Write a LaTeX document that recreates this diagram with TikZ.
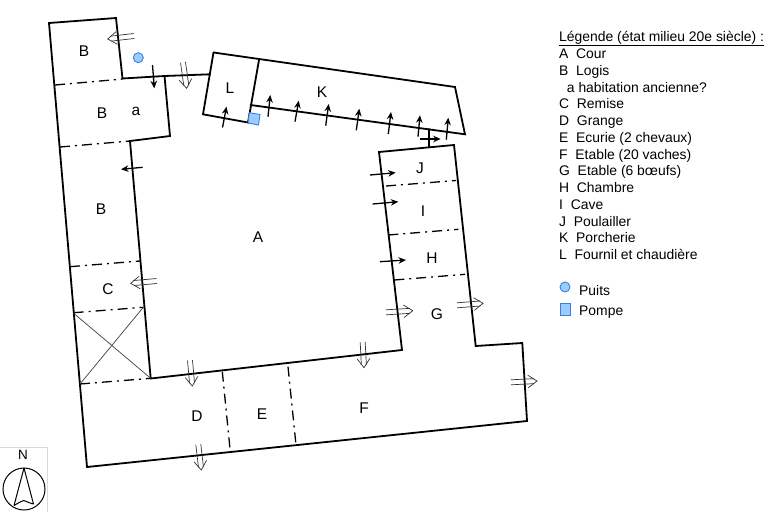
\documentclass[tikz,border=0pt]{standalone}
\usepackage{fontspec}
\setmainfont{Liberation Sans}
\usetikzlibrary{calc,arrows.meta}
\definecolor{bluefill}{HTML}{99CCFF}
\definecolor{blueedge}{HTML}{3D7FDB}
\tikzset{
  wall/.style={line width=1.8pt,line join=miter,line cap=round},
  sep/.style={line width=1.3pt,dash pattern=on 10pt off 5pt on 2pt off 5pt},
  cross/.style={line width=.7pt,black!75},
  solidarrow/.style={line width=1.3pt,-{Stealth[length=7.5pt,width=6.5pt]}},
  openarrow/.style={line width=.7pt,black!80,line join=miter},
  lbl/.style={font=\fontsize{15.5}{15.5}\selectfont,inner sep=0pt,yshift=-1pt},
  leg/.style={font=\fontsize{13.9}{13.9}\selectfont,inner sep=0pt,anchor=base west},
  blue/.style={fill=bluefill,draw=blueedge,line width=.9pt},
}
\newcommand{\opnarrow}[2]{%
  \draw[openarrow] ($(#1)!2.5pt!90:(#2)$) -- ($($(#2)!3pt!(#1)$)!2.5pt!90:(#2)$);
  \draw[openarrow] ($(#1)!2.5pt!-90:(#2)$) -- ($($(#2)!3pt!(#1)$)!2.5pt!-90:(#2)$);
  \draw[openarrow] ($(#2)!11pt!35:(#1)$) -- (#2) -- ($(#2)!11pt!-35:(#1)$);
}
\begin{document}
\begin{tikzpicture}[x=1pt,y=-1pt]
\useasboundingbox (0,0) rectangle (768,512);
\fill[white] (0,0) rectangle (768,512);

% north sign
\draw[black!15,line width=.6pt] (0,447) -- (47,447) -- (47,512);
\node[inner sep=0pt,font=\fontsize{13.5}{13.5}\selectfont] (north) at (23,455) {N};
\draw[line width=1pt] (24,489) circle (21);
\draw[line width=1pt,line join=round] (14,505.5) -- (24,468) -- (33.5,504) .. controls (29,503) and (26,501) .. (23.5,500.5) .. controls (20,501.5) and (17,504) .. (14,505.5);

% walls
\draw[wall] (49,23) -- (116,18) -- (122.5,78.5) -- (164.5,76) -- (170,136) -- (130,141) -- (150.7,378.5) -- (402,350) -- (379,152) -- (454,145) -- (475.7,346) -- (522.3,343) -- (527,421) -- (87,467) -- cycle;
\draw[wall] (164.5,76) -- (210,74.3);
\draw[wall] (213.5,52.5) -- (203,114.3) -- (248,122.5) -- (259,60);
\draw[wall] (213.5,52.5) -- (455,87) -- (465,134.3) -- (250.5,105);
\draw[wall] (429,129) -- (429,147);

% separations
\draw[sep] (55,85) -- (122.5,79);
\draw[sep] (60,147) -- (130,141);
\draw[sep] (70,266.7) -- (140,261);
\draw[sep] (73.7,312.7) -- (143.3,307.3);
\draw[sep] (80,384) -- (150.7,378.3);
\draw[sep] (222.3,371.7) -- (230.3,451.7);
\draw[sep] (288,366.7) -- (296,445);
\draw[sep] (386,186) -- (456,180.5);
\draw[sep] (388.3,235) -- (458.3,229.3);
\draw[sep] (394.3,280) -- (465,274.3);
\draw[cross] (73.7,313.3) -- (150.7,378.3);
\draw[cross] (80,384) -- (143.3,307.3);

% well and pump
\draw[blue] (138.3,57.7) circle (5);
\draw[blue] (249.3,112.7) -- (260,114.5) -- (258.5,125) -- (248,123) -- cycle;

% solid arrows
\foreach \a/\b in {
  {152.5,65}/{154.3,88.3},{142.7,167.3}/{121,169.3},{222.5,127.5}/{226.5,106.7},
  {268,116.7}/{270.3,95},{295,121.7}/{298.7,100.7},{325.7,125.7}/{328.7,104},
  {356.3,130.3}/{359.3,108.7},{388.3,134}/{391,112},{418,136.7}/{420,115.3},
  {446.3,139.7}/{448.3,117.7},{420,139}/{440.7,139},{370,175}/{395.7,172.7},
  {372.7,204}/{398.3,201.7},{380,261.7}/{406,260}}
  {\draw[solidarrow] (\a) -- (\b);}

% open double arrows
\opnarrow{134,36}{107.7,39}
\opnarrow{183,62.3}{186.7,88.3}
\opnarrow{156.7,281}{130.7,283.3}
\opnarrow{190,360.3}{192.3,386}
\opnarrow{198.3,444.3}{201.3,470}
\opnarrow{386,312.3}{412.7,310.7}
\opnarrow{457,305.3}{483,303.3}
\opnarrow{511,382.3}{537,381}
\opnarrow{362.7,342.3}{364,367.7}

% room labels
\node[lbl] (A) at (258,236) {A};
\node[lbl] (B1) at (84,50) {B};
\node[lbl] (B2) at (102,112) {B};
\node[lbl] (a) at (136,110) {a};
\node[lbl] (B3) at (101,208) {B};
\node[lbl] (C) at (108,288) {C};
\node[lbl] (D) at (197,415) {D};
\node[lbl] (E) at (262,413) {E};
\node[lbl] (F) at (364,407) {F};
\node[lbl] (G) at (437,313) {G};
\node[lbl] (H) at (432,257) {H};
\node[lbl] (I) at (423,210) {I};
\node[lbl] (J) at (420,167) {J};
\node[lbl] (K) at (322,91) {K};
\node[lbl] (L) at (230,87) {L};

% legend
\node[leg] (l0) at (559,41) {\underline{Légende (état milieu 20e siècle) :}};
\node[leg] (l1) at (559,58) {A~~Cour};
\node[leg] (l2) at (559,75) {B~~Logis};
\node[leg] (l3) at (559,92) {~~a habitation ancienne?};
\node[leg] (l4) at (559,108) {C~~Remise};
\node[leg] (l5) at (559,125) {D~~Grange};
\node[leg] (l6) at (559,142) {E~~Ecurie (2 chevaux)};
\node[leg] (l7) at (559,159) {F~~Etable (20 vaches)};
\node[leg] (l8) at (559,175) {G~~Etable (6 bœufs)};
\node[leg] (l9) at (559,192) {H~~Chambre};
\node[leg] (l10) at (559,209) {I~~Cave};
\node[leg] (l11) at (559,226) {J~~Poulailler};
\node[leg] (l12) at (559,242) {K~~Porcherie};
\node[leg] (l13) at (559,259) {L~~Fournil et chaudière};
\draw[blue] (565,287) circle (5);
\node[leg] (puits) at (579,295) {Puits};
\draw[blue] (560,303.5) rectangle (570,315);
\node[leg] (pompe) at (579,315) {Pompe};
\end{tikzpicture}
\end{document}
